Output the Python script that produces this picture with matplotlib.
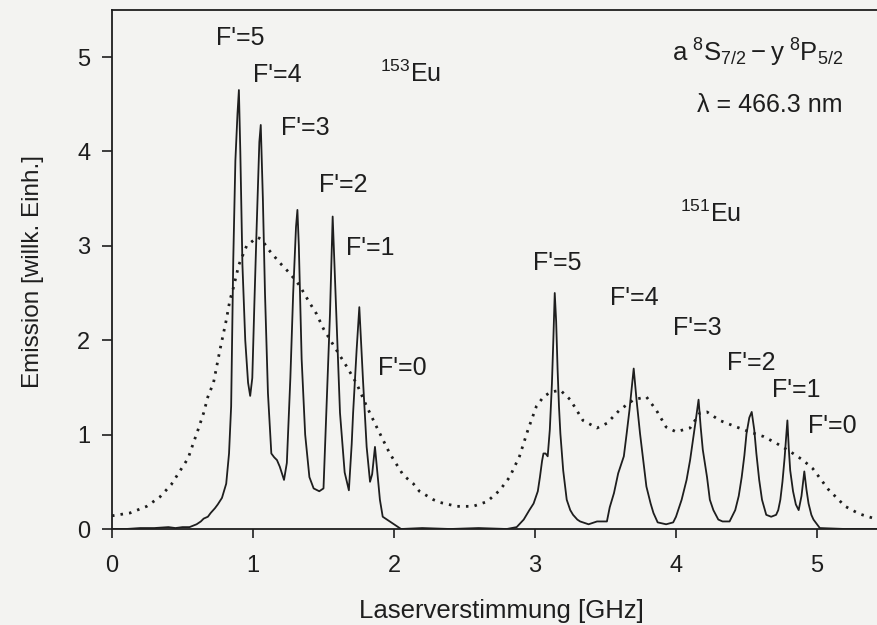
import matplotlib
matplotlib.use("Agg")
import matplotlib.pyplot as plt

plt.rcParams['font.family'] = ['Liberation Sans', 'DejaVu Sans']
plt.rcParams['mathtext.fontset'] = 'custom'
plt.rcParams['mathtext.rm'] = 'Liberation Sans'
plt.rcParams['mathtext.it'] = 'Liberation Sans:italic'
plt.rcParams['mathtext.bf'] = 'Liberation Sans:bold'

# ---- data ----
# measured spectrum (solid line)
meas_x = [0.00, 0.10, 0.20, 0.30, 0.40, 0.45, 0.50, 0.55, 0.60, 0.63, 0.65, 0.68, 0.70, 0.73,
          0.75, 0.78, 0.81, 0.83, 0.845, 0.86, 0.875, 0.89, 0.90, 0.91, 0.925, 0.945, 0.965,
          0.98, 0.995, 1.01, 1.026, 1.045, 1.055, 1.07, 1.085, 1.106, 1.13, 1.15, 1.17, 1.19,
          1.22, 1.24, 1.265, 1.285, 1.305, 1.315, 1.325, 1.345, 1.37, 1.40, 1.43, 1.47, 1.50,
          1.52, 1.546, 1.565, 1.59, 1.617, 1.65, 1.68, 1.70, 1.71, 1.735, 1.754, 1.78, 1.806,
          1.83, 1.845, 1.865, 1.885, 1.90, 1.92, 1.96, 1.99, 2.05, 2.20, 2.40, 2.60, 2.80,
          2.87, 2.92, 2.96, 2.99, 3.02, 3.035, 3.05, 3.06, 3.075, 3.09, 3.105, 3.12, 3.13,
          3.14, 3.15, 3.16, 3.17, 3.18, 3.20, 3.225, 3.25, 3.27, 3.30, 3.32, 3.38, 3.44,
          3.51, 3.53, 3.56, 3.59, 3.63, 3.65, 3.67, 3.70, 3.72, 3.745, 3.77, 3.79, 3.82,
          3.84, 3.87, 3.93, 3.98, 4.00, 4.04, 4.075, 4.10, 4.12, 4.14, 4.16, 4.175, 4.19,
          4.22, 4.24, 4.265, 4.30, 4.33, 4.38, 4.42, 4.445, 4.466, 4.485, 4.50, 4.52, 4.537,
          4.555, 4.57, 4.59, 4.61, 4.64, 4.675, 4.71, 4.725, 4.74, 4.755, 4.77, 4.79, 4.80,
          4.81, 4.83, 4.85, 4.87, 4.89, 4.91, 4.925, 4.94, 4.96, 4.975, 5.02, 5.20, 5.43]
meas_y = [0.00, 0.00, 0.01, 0.01, 0.02, 0.01, 0.02, 0.02, 0.05, 0.08, 0.11, 0.13, 0.17, 0.22,
          0.26, 0.33, 0.48, 0.80, 1.30, 2.85, 3.90, 4.40, 4.65, 4.00, 2.80, 2.00, 1.55,
          1.41, 1.60, 2.40, 3.20, 4.10, 4.28, 3.50, 2.50, 1.44, 0.80, 0.76, 0.73, 0.66,
          0.52, 0.70, 1.60, 2.50, 3.20, 3.38, 3.00, 1.80, 1.00, 0.55, 0.43, 0.40, 0.43,
          1.23, 2.28, 3.31, 2.30, 1.23, 0.60, 0.41, 0.90, 1.23, 1.90, 2.35, 1.58, 0.87,
          0.50, 0.58, 0.87, 0.55, 0.31, 0.13, 0.09, 0.06, 0.00, 0.01, 0.00, 0.01, 0.00,
          0.02, 0.10, 0.20, 0.27, 0.40, 0.55, 0.72, 0.80, 0.80, 0.77, 1.05, 1.54, 2.00,
          2.50, 2.20, 1.70, 1.30, 1.01, 0.62, 0.31, 0.20, 0.15, 0.10, 0.08, 0.05, 0.08,
          0.08, 0.23, 0.38, 0.59, 0.77, 1.01, 1.26, 1.70, 1.37, 1.01, 0.70, 0.45, 0.27,
          0.17, 0.07, 0.05, 0.07, 0.13, 0.31, 0.52, 0.73, 0.94, 1.15, 1.37, 1.08, 0.84,
          0.55, 0.31, 0.20, 0.10, 0.08, 0.08, 0.20, 0.35, 0.55, 0.78, 1.01, 1.18, 1.24,
          1.05, 0.80, 0.52, 0.31, 0.15, 0.13, 0.15, 0.20, 0.31, 0.50, 0.75, 1.15, 0.85,
          0.62, 0.40, 0.26, 0.20, 0.35, 0.61, 0.42, 0.27, 0.15, 0.10, 0.01, 0.00, 0.00]

# calculated / reference spectrum (dotted line)
ref_x = [0.00, 0.128, 0.246, 0.34, 0.42, 0.48, 0.54, 0.577, 0.61, 0.65, 0.68, 0.72, 0.766,
         0.81, 0.837, 0.86, 0.90, 0.955, 1.03, 1.06, 1.11, 1.19, 1.26, 1.33, 1.40, 1.45,
         1.50, 1.59, 1.665, 1.735, 1.806, 1.877, 1.97, 2.066, 2.137, 2.18, 2.28, 2.33,
         2.445, 2.56, 2.66, 2.75, 2.82, 2.89, 2.95, 3.01, 3.06, 3.11, 3.18, 3.25, 3.34,
         3.44, 3.51, 3.60, 3.70, 3.79, 3.86, 3.93, 4.00, 4.10, 4.17, 4.22, 4.31, 4.43,
         4.52, 4.62, 4.71, 4.81, 4.90, 4.97, 5.00, 5.08, 5.20, 5.30, 5.43]
ref_y = [0.14, 0.17, 0.24, 0.34, 0.47, 0.61, 0.75, 0.91, 1.05, 1.23, 1.40, 1.55, 1.90,
         2.21, 2.43, 2.55, 2.80, 3.00, 3.09, 3.07, 2.96, 2.82, 2.71, 2.58, 2.40, 2.28,
         2.12, 1.90, 1.72, 1.54, 1.30, 1.08, 0.80, 0.57, 0.48, 0.40, 0.31, 0.28,
         0.24, 0.24, 0.29, 0.41, 0.55, 0.77, 1.05, 1.30, 1.40, 1.45, 1.47, 1.37, 1.15,
         1.07, 1.12, 1.26, 1.37, 1.40, 1.26, 1.08, 1.03, 1.07, 1.23, 1.24, 1.15, 1.08,
         1.03, 0.98, 0.91, 0.82, 0.73, 0.64, 0.58, 0.42, 0.24, 0.16, 0.10]

x_ticks = [0, 1, 2, 3, 4, 5]
y_ticks = [0, 1, 2, 3, 4, 5]

line_labels = ["F'=5", "F'=4", "F'=3", "F'=2", "F'=1", "F'=0"]
eu153_label_x = [0.908, 1.170, 1.369, 1.638, 1.830, 2.057]
eu153_label_y = [5.127, 4.735, 4.174, 3.570, 2.903, 1.631]
eu151_label_x = [3.156, 3.702, 4.149, 4.532, 4.851, 5.106]
eu151_label_y = [2.744, 2.373, 2.055, 1.684, 1.398, 1.017]

# ---- figure ----
W, H = 878, 625
bg = '#f3f3f1'
ink = '#1e1e1e'
fig = plt.figure(figsize=(W / 100, H / 100), dpi=100, facecolor=bg)
ax = fig.add_axes([112 / W, 96 / H, 1 - 112 / W, 519 / H])
ax.set_facecolor(bg)
ax.set_xlim(0, 766 / 141.0)
ax.set_ylim(0, 519 / 94.4)

ax.plot(ref_x, ref_y, color=ink, lw=2.0, linestyle=(0, (0.9, 2.2)),
        dash_capstyle='butt')
ax.plot(meas_x, meas_y, color=ink, lw=1.3, solid_joinstyle='round')

for s in ['top', 'left', 'bottom']:
    ax.spines[s].set_linewidth(1.3)
    ax.spines[s].set_color(ink)
ax.spines['right'].set_visible(False)

ax.set_xticks(x_ticks)
ax.set_yticks(y_ticks)
ax.set_xticklabels([str(t) for t in x_ticks])
ax.set_yticklabels([str(t) for t in y_ticks])
ax.tick_params(axis='x', direction='out', length=6.5, width=1.2, color=ink,
               labelsize=17, pad=12, labelcolor=ink)
ax.tick_params(axis='y', direction='out', length=7.5, width=1.2, color=ink,
               labelsize=17, pad=8, labelcolor=ink)

for lab, x, y in zip(line_labels, eu153_label_x, eu153_label_y):
    ax.text(x, y, lab, ha='center', va='baseline', fontsize=18, color=ink)
for lab, x, y in zip(line_labels, eu151_label_x, eu151_label_y):
    ax.text(x, y, lab, ha='center', va='baseline', fontsize=18, color=ink)

ax.text(1.90, 4.735, r"$^{153}\mathrm{Eu}$", ha='left', va='baseline', fontsize=18, color=ink)
ax.text(4.028, 3.252, r"$^{151}\mathrm{Eu}$", ha='left', va='baseline', fontsize=18, color=ink)
ax.text(3.972, 4.947,
        r"$\mathrm{a}\;^{8}\mathrm{S}_{7/2} - \mathrm{y}\;^{8}\mathrm{P}_{5/2}$",
        ha='left', va='baseline', fontsize=18.5, color=ink)
ax.text(4.149, 4.417, "λ = 466.3 nm", ha='left', va='baseline', fontsize=18, color=ink)

fig.text(33 / W, 1 - 271 / H, "Emission [willk. Einh.]", rotation=90,
         ha='center', va='center', fontsize=17.5, color=ink)
fig.text(501 / W, 1 - 618 / H, "Laserverstimmung [GHz]", ha='center', va='baseline',
         fontsize=18.5, color=ink)

fig.savefig("out.png", dpi=100, facecolor=bg)
